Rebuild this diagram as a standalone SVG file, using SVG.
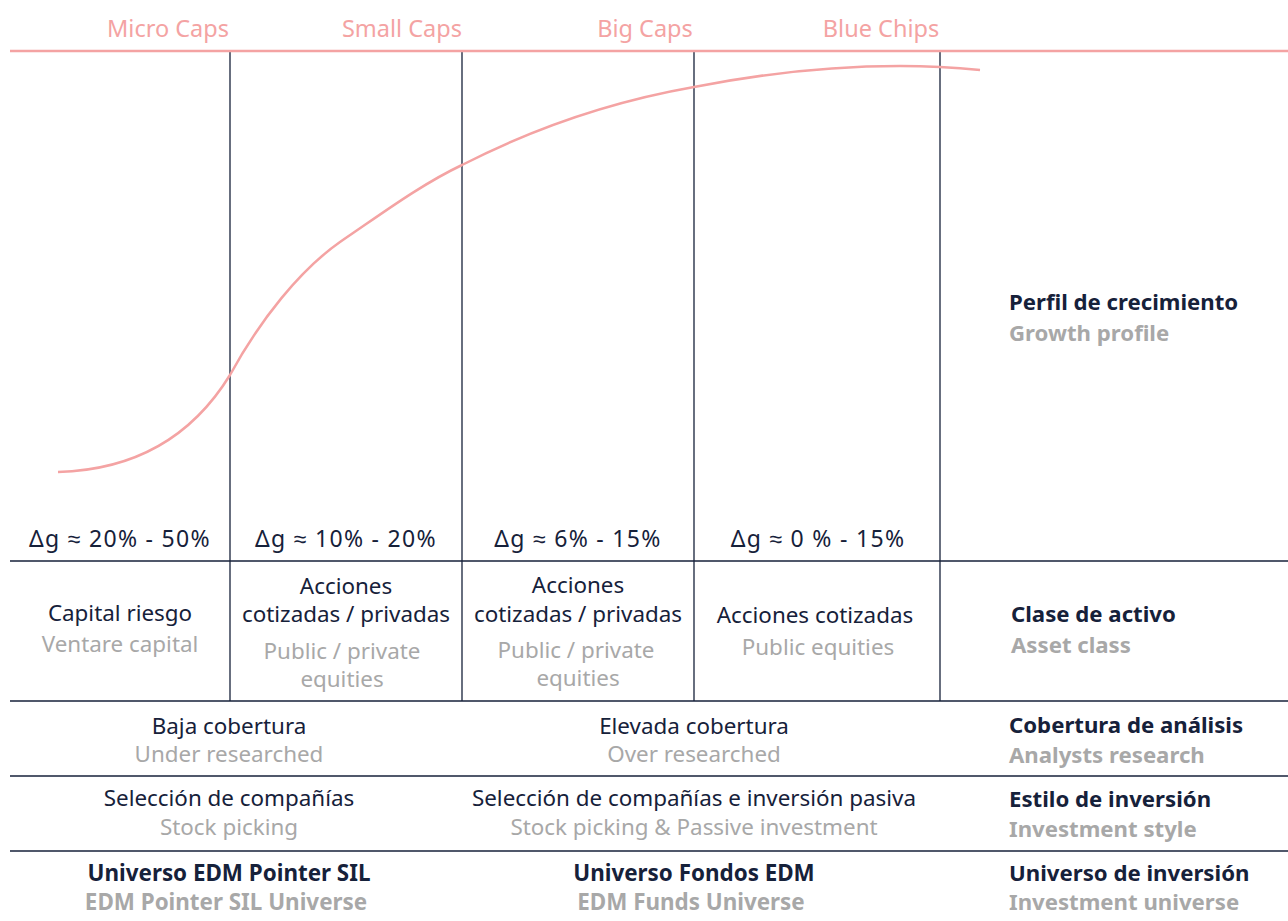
<svg xmlns="http://www.w3.org/2000/svg" width="1288" height="921" viewBox="0 0 1288 921">
<style>
text{font-family:"Noto Sans","Liberation Sans",sans-serif;font-size:22.4px}
.c{text-anchor:middle}
.pk{fill:#f4a3a3;font-size:23.5px}
.dk{fill:#16213a}
.gr{fill:#a8a8a8}
.b{font-weight:bold;font-size:22.4px}
.r{font-size:22.2px}
.dg{font-size:23px;letter-spacing:1.3px}
.ln{stroke:#16213a;stroke-width:1.3;fill:none}
</style>
<rect width="1288" height="921" fill="#fff"/>
<g id="connectors">
<line class="ln" x1="230" y1="51" x2="230" y2="701"/>
<line class="ln" x1="462" y1="51" x2="462" y2="701"/>
<line class="ln" x1="694" y1="51" x2="694" y2="701"/>
<line class="ln" x1="940" y1="51" x2="940" y2="701"/>
<line class="ln" x1="10" y1="561" x2="1288" y2="561"/>
<line class="ln" x1="10" y1="701" x2="1288" y2="701"/>
<line class="ln" x1="10" y1="776" x2="1288" y2="776"/>
<line class="ln" x1="10" y1="851" x2="1288" y2="851"/>
<line x1="10" y1="51" x2="1288" y2="51" stroke="#f4a3a3" stroke-width="2.5"/>
<path d="M58,472 C130,470 190,440 230,375 C260,320 300,270 340,242 C380,215 420,185 462,165 C540,125 620,100 694,87 C760,74 830,66 900,66 C930,66 960,68 980,70" fill="none" stroke="#f4a3a3" stroke-width="2.5"/>
</g>
<g id="headers">
<text class="c pk" x="168" y="37">Micro Caps</text>
<text class="c pk" x="402" y="37">Small Caps</text>
<text class="c pk" x="645" y="37">Big Caps</text>
<text class="c pk" x="881" y="37">Blue Chips</text>
</g>
<g id="growth">
<text class="c dk dg" x="120" y="547">Δg ≈ 20% - 50%</text>
<text class="c dk dg" x="346" y="547">Δg ≈ 10% - 20%</text>
<text class="c dk dg" x="578" y="547">Δg ≈ 6% - 15%</text>
<text class="c dk dg" x="818" y="547">Δg ≈ 0 % - 15%</text>
</g>
<g id="asset-class">
<text class="c dk" x="120" y="621">Capital riesgo</text>
<text class="c gr" x="120" y="652">Ventare capital</text>
<text class="c dk" x="346" y="594">Acciones</text>
<text class="c dk" x="346" y="622">cotizadas / privadas</text>
<text class="c gr" x="342" y="659">Public / private</text>
<text class="c gr" x="342" y="687">equities</text>
<text class="c dk" x="578" y="593">Acciones</text>
<text class="c dk" x="578" y="622">cotizadas / privadas</text>
<text class="c gr" x="576" y="658">Public / private</text>
<text class="c gr" x="578" y="686">equities</text>
<text class="c dk" x="815" y="623">Acciones cotizadas</text>
<text class="c gr" x="818" y="655">Public equities</text>
</g>
<g id="coverage">
<text class="c dk" x="229" y="734">Baja cobertura</text>
<text class="c gr" x="229" y="762">Under researched</text>
<text class="c dk" x="694" y="734">Elevada cobertura</text>
<text class="c gr" x="694" y="762">Over researched</text>
</g>
<g id="style">
<text class="c dk" x="229" y="806">Selección de compañías</text>
<text class="c gr" x="229" y="835">Stock picking</text>
<text class="c dk" x="694" y="806">Selección de compañías e inversión pasiva</text>
<text class="c gr" x="694" y="835">Stock picking &amp; Passive investment</text>
</g>
<g id="universe">
<text class="c dk b" x="229" y="881">Universo EDM Pointer SIL</text>
<text class="c gr b" x="226" y="910">EDM Pointer SIL Universe</text>
<text class="c dk b" x="694" y="881">Universo Fondos EDM</text>
<text class="c gr b" x="691" y="910">EDM Funds Universe</text>
</g>
<g id="labels">
<text class="dk b r" x="1009" y="310">Perfil de crecimiento</text>
<text class="gr b r" x="1009" y="341">Growth profile</text>
<text class="dk b r" x="1011" y="622">Clase de activo</text>
<text class="gr b r" x="1011" y="653">Asset class</text>
<text class="dk b r" x="1009" y="733">Cobertura de análisis</text>
<text class="gr b r" x="1009" y="763">Analysts research</text>
<text class="dk b r" x="1009" y="807">Estilo de inversión</text>
<text class="gr b r" x="1009" y="837">Investment style</text>
<text class="dk b r" x="1009" y="881">Universo de inversión</text>
<text class="gr b r" x="1009" y="910">Investment universe</text>
</g>
</svg>
